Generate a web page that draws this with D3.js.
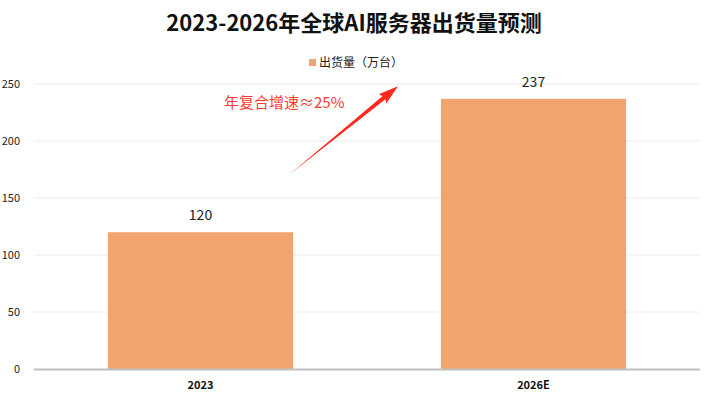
<!DOCTYPE html>
<html>
<head>
<meta charset="utf-8">
<script src="https://cdn.jsdelivr.net/npm/d3@7"></script>
<style>
  body { margin: 0; background: #fff; }
  svg { font-family: "Noto Sans CJK SC", "Noto Sans", sans-serif; }
</style>
</head>
<body>
<svg id="chart" width="708" height="399"></svg>
<script>
// data
const categories = ["2023", "2026E"];
const shipments = [120, 237];
const yTicks = [0, 50, 100, 150, 200, 250];
const seriesName = "出货量（万台）";
const note = "年复合增速≈25%";

const svg = d3.select("#chart");
const W = 708, H = 399;
const margin = { left: 34, right: 8, top: 84, bottom: 30 };

const x = d3.scaleBand()
  .domain(categories)
  .range([margin.left, W - margin.right])
  .paddingInner(0.444)
  .paddingOuter(0.222);

const y = d3.scaleLinear()
  .domain([0, 250])
  .range([H - margin.bottom, margin.top]);

// title
svg.append("text")
  .attr("x", W / 2).attr("y", 31)
  .attr("text-anchor", "middle")
  .attr("font-size", 22).attr("font-weight", "bold")
  .attr("fill", "#111")
  .text("2023-2026年全球AI服务器出货量预测");

// grid lines
svg.append("g").selectAll("line")
  .data(yTicks.filter(d => d > 0))
  .enter().append("line")
  .attr("x1", margin.left).attr("x2", W - margin.right)
  .attr("y1", d => y(d)).attr("y2", d => y(d))
  .attr("stroke", "#ececec").attr("stroke-width", 1);

// y tick labels
svg.append("g").selectAll("text")
  .data(yTicks)
  .enter().append("text")
  .attr("x", 20).attr("y", d => y(d) + 4)
  .attr("text-anchor", "end")
  .attr("font-size", 11).attr("fill", "#222")
  .text(d => d);

// bars
svg.append("g").selectAll("rect")
  .data(categories)
  .enter().append("rect")
  .attr("x", d => x(d))
  .attr("y", (d, i) => y(shipments[i]))
  .attr("width", x.bandwidth())
  .attr("height", (d, i) => y(0) - y(shipments[i]))
  .attr("fill", "#F2A46E");

// value labels
svg.append("g").selectAll("text")
  .data(categories)
  .enter().append("text")
  .attr("x", d => x(d) + x.bandwidth() / 2)
  .attr("y", (d, i) => y(shipments[i]) - 12)
  .attr("text-anchor", "middle")
  .attr("font-size", 14).attr("fill", "#222")
  .text((d, i) => shipments[i]);

// x axis line
svg.append("line")
  .attr("x1", margin.left).attr("x2", W - margin.right)
  .attr("y1", y(0) + 0.5).attr("y2", y(0) + 0.5)
  .attr("stroke", "#bfbfbf").attr("stroke-width", 2);

// category labels
svg.append("g").selectAll("text")
  .data(categories)
  .enter().append("text")
  .attr("x", d => x(d) + x.bandwidth() / 2)
  .attr("y", H - 10)
  .attr("text-anchor", "middle")
  .attr("font-size", 11).attr("font-weight", "bold").attr("fill", "#111")
  .text(d => d);

// legend
const legendX = 309, legendY = 63;
svg.append("rect")
  .attr("x", legendX).attr("y", legendY - 4)
  .attr("width", 7).attr("height", 7)
  .attr("fill", "#F2A46E");
svg.append("text")
  .attr("x", legendX + 10).attr("y", legendY + 4)
  .attr("font-size", 12).attr("fill", "#222")
  .text(seriesName);

// annotation text
svg.append("text")
  .attr("x", 224).attr("y", 108)
  .attr("font-size", 15).attr("fill", "#FF3A30")
  .text(note);

// arrow: tapered shaft from between bars up toward the legend
const x0 = x("2023") + x.bandwidth() - 3, y0 = y(171);
const x1 = 398, y1 = y(248);
const ang = Math.atan2(y1 - y0, x1 - x0);
const len = Math.hypot(x1 - x0, y1 - y0);
const headLen = 18, headW = 6, shaftW = 2.2;
const pts = [
  [0, 0],
  [len - headLen, -shaftW],
  [len - headLen - 2, -headW],
  [len, 0],
  [len - headLen - 2, headW],
  [len - headLen, shaftW]
].map(([u, v]) => [
  x0 + u * Math.cos(ang) - v * Math.sin(ang),
  y0 + u * Math.sin(ang) + v * Math.cos(ang)
]);
svg.append("path")
  .attr("d", d3.line()(pts) + "Z")
  .attr("fill", "#FF2A1F");
</script>
</body>
</html>
